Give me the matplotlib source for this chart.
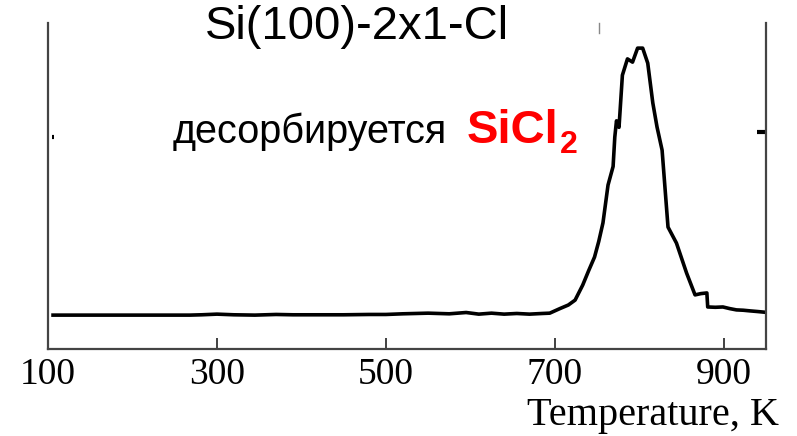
import matplotlib.pyplot as plt

# SiCl2 thermal desorption trace from Si(100)-2x1-Cl (arbitrary units)
temperature = [106, 180, 268, 282, 300, 320, 345, 370, 390, 420, 450, 480, 500,
               520, 550, 575, 595, 610, 625, 640, 655, 670, 685, 694, 706, 716,
               724, 733, 740, 747, 752, 757, 763, 769, 771, 773, 776, 780, 786,
               792, 798, 804, 810, 816, 821, 827, 834, 844, 856, 866, 873, 880,
               881, 890, 899, 907, 915, 923, 931, 940, 948]
signal = [0.104, 0.104, 0.104, 0.105, 0.107, 0.105, 0.104, 0.106, 0.105, 0.105,
          0.105, 0.106, 0.106, 0.108, 0.110, 0.108, 0.112, 0.107, 0.110, 0.107,
          0.109, 0.107, 0.109, 0.110, 0.124, 0.135, 0.150, 0.196, 0.240, 0.282,
          0.330, 0.387, 0.503, 0.560, 0.650, 0.700, 0.680, 0.840, 0.890, 0.880,
          0.923, 0.923, 0.877, 0.755, 0.681, 0.610, 0.374, 0.325, 0.233, 0.166,
          0.170, 0.172, 0.129, 0.128, 0.129, 0.124, 0.120, 0.119, 0.117, 0.115,
          0.113]

xticks = [100, 300, 500, 700, 900]

fig = plt.figure(figsize=(7.97, 4.36), dpi=100)
ax = fig.add_axes([0.0602, 0.1995, 0.9009, 0.7477])

ax.plot(temperature, signal, color="black", linewidth=2.6, solid_joinstyle="round")

ax.set_xlim(100, 950)
ax.set_ylim(0, 1)
ax.set_xticks(xticks)
ax.set_xticklabels([str(t) for t in xticks], family="Liberation Serif", fontsize=27)
ax.set_yticks([])
ax.tick_params(axis="x", direction="in", length=8, width=1.3, color="#333333", pad=6)

ax.spines["top"].set_visible(False)
for side in ["left", "right", "bottom"]:
    ax.spines[side].set_color("#444444")
    ax.spines[side].set_linewidth(1.6)

# stray marks left on the frame
ax.plot([0.9875, 1.0], [0.666, 0.666], transform=ax.transAxes, color="black",
        linewidth=3, solid_capstyle="butt", clip_on=False)
ax.plot([0.006, 0.009], [0.650, 0.650], transform=ax.transAxes, color="black",
        linewidth=3, solid_capstyle="butt", clip_on=False)
ax.plot([0.7675, 0.7675], [0.97, 1.0], transform=ax.transAxes, color="#888888",
        linewidth=1, clip_on=False)

fig.text(0.977, 0.025, "Temperature, K", family="Liberation Serif", fontsize=29,
         ha="right", va="baseline")

fig.text(0.448, 0.938, "Si(100)-2x1-Cl", family="Liberation Sans", fontsize=34,
         ha="center", va="center")
fig.text(173 / 797, 1 - 143 / 436, "десорбируется", family="Liberation Sans",
         fontsize=28.5, ha="left", va="baseline")
fig.text(467 / 797, 1 - 143 / 436, "SiCl", family="Liberation Sans", fontsize=34,
         fontweight="bold", color="#ff0000", ha="left", va="baseline")
fig.text(560 / 797, 1 - 153 / 436, "2", family="Liberation Sans", fontsize=23,
         fontweight="bold", color="#ff0000", ha="left", va="baseline")

fig.savefig("out.png", dpi=100)
